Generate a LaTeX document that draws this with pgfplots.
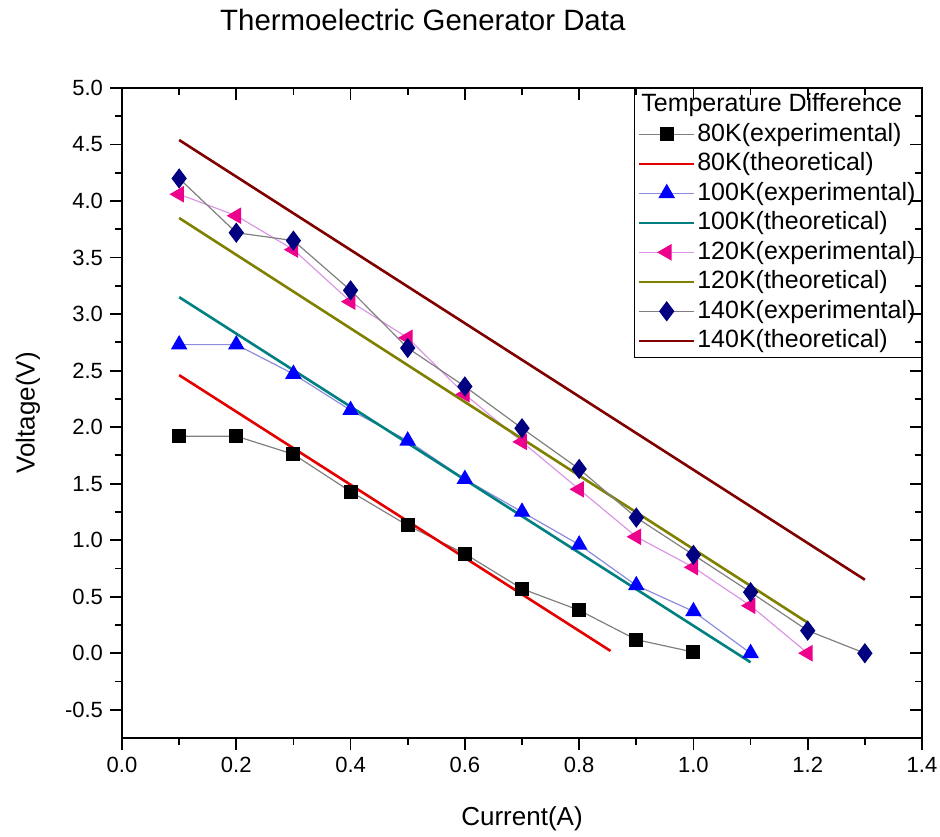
\documentclass[border=0pt]{standalone}
\usepackage{pgfplots}
\pgfplotsset{compat=1.18}
\usepackage{fontspec}
\setmainfont{Liberation Sans}
\definecolor{tealc}{RGB}{0,128,128}
\definecolor{olivec}{RGB}{128,128,0}
\definecolor{maroonc}{RGB}{128,0,0}
\definecolor{navyc}{RGB}{0,0,128}
\definecolor{grayln}{RGB}{128,128,128}
\definecolor{blueln}{RGB}{140,140,220}
\definecolor{pinkln}{RGB}{220,150,230}
\pgfplotsset{
  common/.style={
    at={(61pt,49pt)}, anchor=south west,
    width=400pt, height=325pt, scale only axis,
    xmin=0, xmax=1.4, ymin=-0.75, ymax=5,
    xtick={0,0.2,...,1.41}, ytick={-0.5,0,0.5,1,1.5,2,2.5,3,3.5,4,4.5,5},
    minor x tick num=1, minor y tick num=1,
    major tick length=6pt, minor tick length=3.5pt,
    axis line style={line width=1pt},
    every tick/.style={black, line width=0.9pt},
  }
}
\begin{document}
\begin{tikzpicture}
\begin{axis}[common,
  xtick pos=left, ytick pos=left, tick align=outside,
  /pgf/number format/.cd, fixed, fixed zerofill, precision=1, assume math mode=true,
  /pgfplots/.cd,
  ticklabel style={font=\fontsize{11}{13}\selectfont},
  xlabel={Current(A)}, ylabel={Voltage(V)},
  label style={font=\fontsize{13}{15}\selectfont},
  xlabel style={at={(axis description cs:0.5,-0.125)}, anchor=center},
  ylabel style={at={(axis description cs:-0.1175,0.5)}, anchor=center},
  title={Thermoelectric Generator Data},
  title style={at={(axis description cs:0.376,1.086)}, anchor=center, font=\fontsize{14.7}{17}\selectfont},
  legend cell align=left,
  legend style={at={(1,1)}, anchor=north east, draw=black, line width=0.5pt,
    font=\fontsize{12.5}{14}\selectfont, inner xsep=2pt, inner ysep=1.5pt, row sep=1.45pt,
    nodes={text height=9.6pt, text depth=2.9pt, inner ysep=0.4pt, inner xsep=1pt}},
  legend image code/.code={
    \draw[mark repeat=2,mark phase=2] plot coordinates {(0cm,0cm) (0.48cm,0cm) (0.96cm,0cm)};
  },
]
\addlegendimage{empty legend}
\addlegendentry{\hspace*{-28pt}Temperature Difference}

\addplot[grayln, line width=0.6pt, mark=square*, mark size=3.2pt, mark options={black, fill=black}]
coordinates {(0.1,1.92)(0.2,1.92)(0.3,1.76)(0.4,1.43)(0.5,1.13)(0.6,0.88)(0.7,0.57)(0.8,0.38)(0.9,0.12)(1.0,0.01)};
\addlegendentry{80K(experimental)}

\addplot[red!90!black, line width=1.3pt] coordinates {(0.1,2.46)(0.855,0.02)};
\addlegendentry{80K(theoretical)}

\addplot[blueln, line width=0.6pt, mark=triangle*, mark size=4.2pt, mark options={blue, fill=blue}]
coordinates {(0.1,2.73)(0.2,2.73)(0.3,2.47)(0.4,2.15)(0.5,1.88)(0.6,1.54)(0.7,1.25)(0.8,0.96)(0.9,0.60)(1.0,0.37)(1.1,0.0)};
\addlegendentry{100K(experimental)}

\addplot[tealc, line width=1.3pt] coordinates {(0.1,3.15)(1.1,-0.08)};
\addlegendentry{100K(theoretical)}

\addplot[pinkln, line width=0.6pt, mark=triangle*, mark size=4.2pt, mark options={magenta, fill=magenta, rotate=90}]
coordinates {(0.1,4.06)(0.2,3.87)(0.3,3.57)(0.4,3.11)(0.5,2.79)(0.6,2.29)(0.7,1.87)(0.8,1.45)(0.9,1.03)(1.0,0.76)(1.1,0.42)(1.2,0.0)};
\addlegendentry{120K(experimental)}

\addplot[olivec, line width=1.3pt] coordinates {(0.1,3.85)(1.2,0.27)};
\addlegendentry{120K(theoretical)}

\addplot[grayln, line width=0.6pt, mark=diamond*, mark size=4.6pt, mark options={navyc, fill=navyc}]
coordinates {(0.1,4.20)(0.2,3.72)(0.3,3.65)(0.4,3.21)(0.5,2.70)(0.6,2.36)(0.7,1.99)(0.8,1.63)(0.9,1.20)(1.0,0.87)(1.1,0.54)(1.2,0.20)(1.3,0.0)};
\addlegendentry{140K(experimental)}

\addplot[maroonc, line width=1.3pt] coordinates {(0.1,4.54)(1.3,0.65)};
\addlegendentry{140K(theoretical)}
\end{axis}
\begin{axis}[common,
  xtick pos=right, ytick pos=right, tick align=inside,
  xticklabels={}, yticklabels={},
]
\end{axis}
\pgfresetboundingbox
\path (0,0) rectangle (470pt,418pt);
\end{tikzpicture}
\end{document}
